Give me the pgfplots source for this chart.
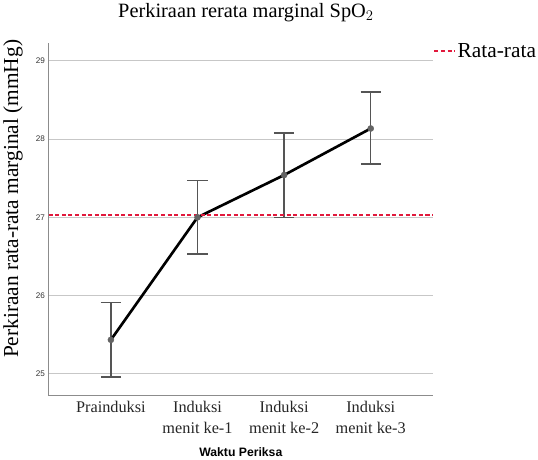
\documentclass[border=0pt]{standalone}
\usepackage{fontspec}
\setmainfont{Liberation Serif}
\newfontfamily\arialfont{Liberation Sans}
\usepackage{pgfplots}
\pgfplotsset{compat=1.18}
\definecolor{meanred}{RGB}{225,25,60}
\definecolor{errgray}{RGB}{85,85,85}
\definecolor{ptgray}{RGB}{100,100,100}
\begin{document}
\begin{tikzpicture}
\begin{axis}[
  scale only axis, width=378pt, height=347pt,
  xmin=-0.72, xmax=3.72, ymin=24.72, ymax=29.23,
  axis x line*=bottom, axis y line*=left,
  axis line style={draw=black!45, line width=1.2pt},
  xtick={0,1,2,3},
  xticklabels={Prainduksi, {Induksi\\menit ke-1}, {Induksi\\menit ke-2}, {Induksi\\menit ke-3}},
  xticklabel style={align=center, font=\fontsize{16}{20}\selectfont, text=black!85, yshift=-2pt},
  ytick={25,26,27,28,29},
  yticklabel style={font=\arialfont\fontsize{8}{9}\selectfont, text=black!80},
  /pgf/number format/assume math mode=true,
  major tick length=0pt,
  ymajorgrids, grid style={black!22, line width=1pt},
  title={Perkiraan rerata marginal SpO$_2$},
  title style={font=\fontsize{20}{22}\selectfont, yshift=11pt, xshift=5pt},
  ylabel={Perkiraan rata-rata marginal (mmHg)},
  ylabel style={font=\fontsize{21}{23}\selectfont, yshift=6pt, xshift=20pt},
  xlabel={Waktu Periksa},
  xlabel style={font=\arialfont\bfseries\fontsize{12}{14}\selectfont, yshift=-7pt},
  legend style={draw=none, fill=none, at={(1,0.977)}, anchor=west, inner xsep=0pt,
    font=\fontsize{21}{23}\selectfont, legend cell align=left},
  legend image code/.code={\draw[#1] (0pt,0pt) -- (20pt,0pt);},
]
\addplot[draw=none, forget plot, error bars/.cd, y dir=both, y explicit,
  error bar style={errgray, line width=1.5pt},
  error mark options={rotate=90, mark size=10pt, line width=1.5pt, errgray}]
  coordinates {
  (0,25.435) += (0,0.475) -= (0,0.475)
  (1,27.00) += (0,0.47) -= (0,0.47)
  (2,27.54) += (0,0.54) -= (0,0.54)
  (3,28.135) += (0,0.465) -= (0,0.455)
  };
\addplot[black, line width=2.6pt, forget plot] coordinates {
  (0,25.435) (1,27.00) (2,27.54) (3,28.135)};
\addplot[only marks, mark=*, mark size=3pt, mark options={fill=ptgray, draw=ptgray}, forget plot]
  coordinates {(0,25.435) (1,27.00) (2,27.54) (3,28.135)};
\addplot[meanred, line width=2pt, dash pattern=on 4pt off 2.5pt] coordinates {(-0.72,27.03) (3.72,27.03)};
\addlegendentry{Rata-rata}
\end{axis}
\end{tikzpicture}
\end{document}
